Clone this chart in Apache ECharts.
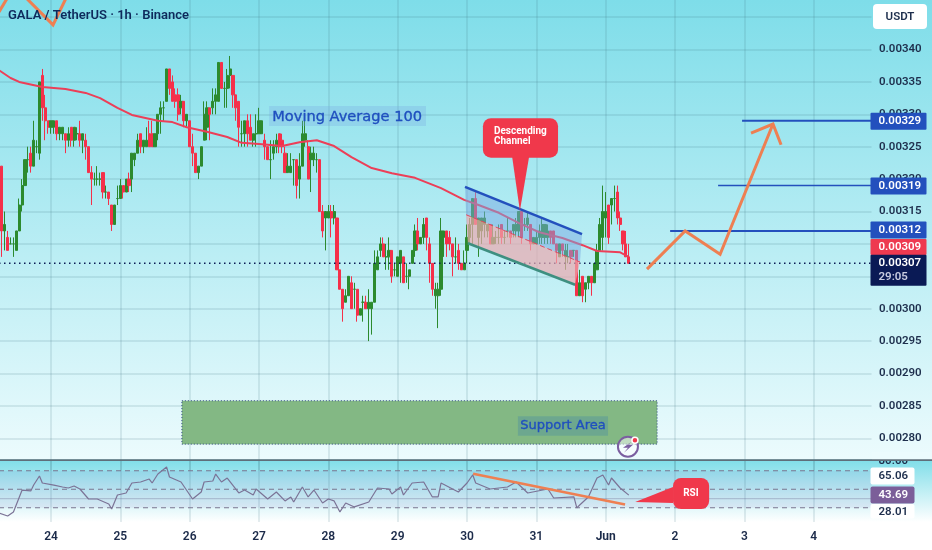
<!DOCTYPE html>
<html><head><meta charset="utf-8">
<style>html,body{margin:0;padding:0;background:#fff}#c{width:932px;height:550px}</style>
<script src="https://cdn.jsdelivr.net/npm/echarts@6/dist/echarts.min.js"></script>
</head><body><div id="c"></div>
<script>
// prices are in units of 0.00001 USDT; rows are [open, close, low, high], one per hour, first row at index 1
const candles = [
[322,312,308,322],[312,313,309,315],[311,309,309,312],[310,310,310,311],[310,310,308,311],[309,312,309,312],[312,316,312,317],[316,319,315,320],[319,323,319,323],[323,323,321,325],
[324,322,321,325],[322,326,322,329],[325,325,324,326],[324,335,323,335],[336,331,329,337],[331,329,326,333],[329,328,327,329],[328,329,327,329],[328,329,327,329],[329,327,326,329],
[327,328,326,328],[327,328,326,328],[327,326,324,327],[326,327,325,328],[328,326,325,328],[326,328,325,328],[327,327,326,328],[327,326,325,329],[326,327,324,327],[326,325,323,327],
[325,321,321,325],[321,320,316,322],[320,320,319,321],[320,320,319,322],[320,320,319,321],[321,318,317,321],[318,318,317,319],[318,317,316,318],[316,313,312,316],[313,316,313,316],
[317,317,316,319],[317,319,317,320],[319,318,317,319],[318,320,318,320],[320,319,318,321],[320,324,318,324],[323,324,322,324],[324,326,324,327],[327,325,324,327],[325,326,324,326],
[325,326,325,328],[327,325,325,329],[327,325,325,329],[325,327,325,327],[327,330,326,330],[330,331,327,332],[331,331,329,332],[332,337,332,337],[337,334,333,337],[335,332,332,336],
[333,332,331,334],[333,330,329,334],[331,332,330,333],[332,329,328,332],[329,330,328,330],[329,325,325,329],[325,324,322,327],[324,321,321,324],[321,322,320,322],[322,325,322,325],
[326,330,326,332],[328,331,326,332],[331,330,326,331],[331,332,330,334],[332,333,330,334],[332,338,332,338],[338,334,334,338],[334,334,331,335],[334,336,331,337],[336,337,334,339],
[336,333,331,336],[333,331,329,333],[332,328,325,332],[327,327,325,329],[327,329,325,329],[329,327,325,330],[328,326,326,330],[326,327,325,327],[327,327,325,330],[327,329,327,331],
[327,329,327,329],[326,325,323,327],[325,323,323,325],[323,323,320,326],[324,325,323,326],[325,326,324,327],[327,325,324,327],[326,325,324,327],[324,321,321,325],[321,322,321,324],
[321,322,321,324],[323,323,319,323],[323,319,317,323],[320,322,317,324],[322,327,322,329],[326,327,325,330],[325,320,320,326],[323,324,318,325],[323,324,322,325],[323,323,321,324],
[323,315,315,323],[315,312,311,316],[314,315,309,315],[314,315,314,316],[315,314,311,316],[314,315,313,316],[314,306,306,314],[306,303,303,306],[303,300,298,303],[301,302,301,303],
[302,305,302,305],[304,300,300,305],[303,303,300,304],[303,299,298,303],[299,300,299,300],[301,301,298,302],[301,300,300,302],[300,301,295,303],[300,301,296,301],[301,307,301,309],
[306,308,306,309],[309,310,308,311],[310,308,308,311],[308,308,306,310],[308,309,306,311],[309,305,304,309],[306,306,305,307],[305,308,305,308],[307,309,304,309],[308,304,304,308],
[305,305,304,307],[305,306,303,306],[307,309,307,309],[309,312,308,313],[312,310,309,314],[310,311,310,311],[311,313,310,314],[314,311,309,314],[310,307,304,311],[307,303,302,307],
[302,303,300,304],[302,303,297,304],[303,312,302,314],[311,312,308,312],[312,310,308,312],[311,310,309,312],[310,308,305,310],[308,308,307,311],[309,307,306,310],[307,306,306,307],
[306,307,306,309],[309,311,307,313],[311,313,310,314],[313,317,310,317],[317,313,313,318],[311,314,308,314],[312,314,310,314],[313,314,311,315],[312,313,311,313],[313,310,310,313],
[310,311,310,313],[311,311,310,312],[311,311,310,313],[313,311,310,313],[311,311,310,312],[312,312,311,314],[312,311,310,312],[312,313,311,313],[312,313,311,314],[312,315,311,315],
[315,311,310,315],[313,313,312,314],[313,314,312,315],[313,310,309,313],[310,311,310,311],[310,311,310,312],[311,312,310,313],[311,313,310,314],[311,313,310,313],[311,312,310,313],
[312,311,310,312],[312,310,310,312],[310,309,307,310],[308,310,308,310],[310,309,308,310],[308,309,306,310],[308,308,307,310],[309,308,307,309],[309,309,308,309],[309,302,302,309],
[302,304,302,306],[305,302,301,305],[303,304,301,304],[304,305,303,305],[305,304,302,305],[304,307,304,307],[306,309,306,310],[309,313,309,314],[311,315,309,319],[314,315,311,318],
[316,311,310,316],[316,317,313,317],[317,317,315,319],[318,314,313,319],[314,313,312,315],[312,310,309,312],[310,308,308,312],[308,307,307,310]
];
const maHours = [0,4,7,13,15,23,30,35,41,46,55,60,65,72,79,84,90,98,104,110,116,122,129,136,144,153,161,166,173,180,187,195,202,207,215,218];
const maValues = [336.8,335.6,335,334.4,334.2,333.9,333.3,332.5,331,329.9,329,328.8,328,327.3,326.5,325.6,325.4,325.1,325.7,326,325.1,323.4,321.7,320.9,320.2,318.6,316.8,316,314.8,313.2,311.8,310.9,309.8,308.9,308.7,308];
const rsiHours = [0,3,5,8,11,12,14,15,19,22,24,26,28,31,34,38,39,41,44,46,49,52,53,55,58,59,63,67,70,71,74,75,77,79,83,85,88,89,93,96,99,101,102,105,107,109,112,114,116,118,120,123,128,131,135,136,139,140,143,147,150,152,153,159,162,164,165,170,176,179,183,190,192,199,200,201,204,207,209,211,212,215,218];
const rsiValues = [24.4,21.1,25.5,49.2,48.2,54.6,64.4,56.8,54.6,52.5,51.4,53.6,50.3,39.5,39.5,34.1,28.7,43.8,46,56.8,57.9,61.1,56.8,66.5,74.1,63.3,57.9,39.5,47.1,57.9,59,66.5,57.9,62.2,46,49.2,43.8,50.3,39.5,47.1,37.4,41.7,36.3,52.5,41.7,49.2,35.2,39.5,37.4,25.5,35.2,30.9,36.3,51.4,50.3,44.9,52.5,43.8,56.8,57.9,41.7,41.7,56.8,47.1,56.8,65.5,56.8,50.3,52.5,57.9,46,50.3,40.6,41.7,29.8,33,41.7,62.2,65.5,54.6,62.2,51.4,43.69];
const dayLabels = ['24','25','26','27','28','29','30','31','Jun','2','3','4'];
const targetPrices = [329,319,312];
const currentPrice = 307;
const maPrice = 309;
const rsiLevels = [70,50,30];
const rsiTagValues = [80,65.06,43.69,28.01];

const LAST = 302, FIRST_DAY = 18, HOURS = 24;
const isDay = i => i >= FIRST_DAY && (i - FIRST_DAY) % HOURS === 0;
const categories = [];
for (let i = 0; i <= LAST; i++) {
  const d = isDay(i) ? dayLabels[(i - FIRST_DAY) / HOURS] : '';
  categories.push(d === 'Jun' ? {value: d, textStyle: {fontWeight: 700}} : d === undefined ? '' : d);
}
const GREEN = '#2c8a2e', RED = '#f5304a', BLUE = '#2350bd', ORANGE = '#ee7f52', NAVY = '#0a1a55', PINK = '#f0384b';
const FONT = 'Roboto, sans-serif';
const fmt = v => (v / 1e5).toFixed(5);

const mainShapes = [
  {k:'box', a:[63.3,285.8], b:[227.8,279.1], fill:'#83b884', stroke:'rgba(20,40,120,.8)', lw:1, dash:[1,2], r:0},
  {k:'line', pts:[[0,currentPrice],[LAST,currentPrice]], stroke:NAVY, lw:1.5, dash:[1.5,3.5]},
  {k:'line', pts:[[0,345.8],[3.1,348.1]], stroke:ORANGE, lw:3},
  {k:'line', pts:[[7.27,348.9],[18.7,343.8],[24.6,349.2]], stroke:ORANGE, lw:3},
  {k:'poly', pts:[[161.3,318.8],[201.8,311.5],[201.1,307.2],[161.7,314.5]], fill:'rgba(120,170,225,.5)'},
  {k:'poly', pts:[[161.7,314.5],[201.1,307.2],[199.4,303.7],[162.3,310.1]], fill:'rgba(235,170,175,.7)'},
  {k:'line', pts:[[161.3,318.8],[201.8,311.5]], stroke:BLUE, lw:2.5},
  {k:'line', pts:[[162.3,310.1],[199.4,303.7]], stroke:'#3e8f80', lw:2.5},
  {k:'line', pts:[[161.7,314.5],[201.1,307.2]], stroke:'#e0495f', lw:1, dash:[5,3]},
  {k:'line', pts:[[257.2,targetPrices[0]],[LAST,targetPrices[0]]], stroke:BLUE, lw:2},
  {k:'line', pts:[[248.9,targetPrices[1]],[LAST,targetPrices[1]]], stroke:BLUE, lw:1.5},
  {k:'line', pts:[[232.3,targetPrices[2]],[LAST,targetPrices[2]]], stroke:BLUE, lw:2},
  {k:'line', pts:[[224.3,306.1],[237.5,312],[249.6,308.4],[267.9,328.5]], stroke:ORANGE, lw:3},
  {k:'line', pts:[[260.3,327.1],[267.9,328.5],[270.7,325.3]], stroke:ORANGE, lw:3},
  {k:'box', a:[93.5,331.3], b:[147.8,328.2], fill:'rgba(120,165,225,.28)', r:0},
  {k:'text', at:[120.5,329.6], text:'Moving Average 100', font:'14.6px "DejaVu Sans", sans-serif', fill:'#1f4fbf', stroke:'#1f4fbf', align:'center'},
  {k:'box', a:[179.6,283.4], b:[210.8,280.4], fill:'rgba(60,130,170,.3)', r:0},
  {k:'text', at:[195.2,281.9], text:'Support Area', font:'13px "DejaVu Sans", sans-serif', fill:'#1f4fbf', stroke:'#1f4fbf', align:'center'},
  {k:'poly', pts:[[177.6,323.5],[183.5,323.5],[180.3,315.1]], fill:PINK},
  {k:'box', a:[167.5,329.4], b:[193.5,323.3], fill:PINK, r:8},
  {k:'text', at:[171.3,327.3], text:'Descending', font:'700 10px '+FONT, fill:'#fff', align:'left'},
  {k:'text', at:[171.3,325.75], text:'Channel', font:'700 10px '+FONT, fill:'#fff', align:'left'},
  {k:'icon', at:[217.7,278.7]}
];
const rsiShapes = [
  {k:'box', a:[0,70], b:[LAST,30], fill:'rgba(126,87,194,.09)', r:0},
  {k:'line', pts:[[0,40],[LAST,40]], stroke:'rgba(100,100,140,.3)', lw:1.2},
  {k:'line', pts:[[0,rsiLevels[0]],[LAST,rsiLevels[0]]], stroke:'#7a7590', lw:1.1, dash:[5,4]},
  {k:'line', pts:[[0,rsiLevels[1]],[LAST,rsiLevels[1]]], stroke:'#7a7590', lw:1.1, dash:[5,4]},
  {k:'line', pts:[[0,rsiLevels[2]],[LAST,rsiLevels[2]]], stroke:'#7a7590', lw:1.1, dash:[5,4]}
];
const rsiTopShapes = [
  {k:'line', pts:[[164.1,66.8],[216.7,33.5]], stroke:ORANGE, lw:2.5},
  {k:'poly', pts:[[233.3,52.5],[220.2,36.3],[233.3,35.2]], fill:PINK},
  {k:'box', a:[233.3,62.2], b:[245.8,28.7], fill:PINK, r:8},
  {k:'text', at:[239.5,45], text:'RSI', font:'700 10px '+FONT, fill:'#fff', align:'center'}
];
function draw(s, api) {
  if (s.k === 'line' || s.k === 'poly') {
    return {type: s.k === 'line' ? 'polyline' : 'polygon', shape:{points:s.pts.map(p => api.coord(p))},
      style:{fill:s.fill||'none', stroke:s.stroke||'none', lineWidth:s.lw||0, lineDash:s.dash||null, lineJoin:'miter'}};
  }
  if (s.k === 'box') {
    const a = api.coord(s.a), b = api.coord(s.b);
    return {type:'rect', shape:{x:a[0], y:a[1], width:b[0]-a[0], height:b[1]-a[1], r:s.r},
      style:{fill:s.fill, stroke:s.stroke||'none', lineWidth:s.lw||0, lineDash:s.dash||null}};
  }
  if (s.k === 'text') {
    const a = api.coord(s.at);
    return {type:'text', style:{text:s.text, x:a[0], y:a[1], font:s.font, fill:s.fill, stroke:s.stroke||null, lineWidth:s.stroke?0.35:0, align:s.align, verticalAlign:'middle'}};
  }
  const c = api.coord(s.at), P = '#7b5ea0';
  return {type:'group', children:[
    {type:'circle', shape:{cx:c[0], cy:c[1], r:10}, style:{fill:'rgba(255,255,255,.5)', stroke:P, lineWidth:2}},
    {type:'polygon', shape:{points:[[5,-6],[-5,1],[0,1],[-4,6],[5,-2],[0,-2]].map(q => [c[0]+q[0], c[1]+q[1]])}, style:{fill:P}},
    {type:'circle', shape:{cx:c[0]+7, cy:c[1]-6.5, r:3}, style:{fill:'#f0384b', stroke:'#fff', lineWidth:1.5}}
  ]};
}
function annotSeries(shapes, x, y, z, yv) {
  return {type:'custom', xAxisIndex:x, yAxisIndex:y, z, silent:true, encode:{x:0,y:1},
    data:shapes.map((s,i) => [i, yv]), renderItem:(p, api) => draw(shapes[p.dataIndex], api)};
}
const tagFont = '600 11.5px ' + FONT;
function priceTag(box, api) {
  const c = api.coord([LAST, box.v]), x0 = c[0]-1, w = box.w || 56, kids = [];
  if (box.fill) kids.push({type:'rect', shape:{x:x0, y:c[1]+box.top, width:w, height:box.h, r:box.r||1}, style:{fill:box.fill}});
  kids.push({type:'text', style:{text:box.text, x:x0+8, y:c[1]+box.top+box.ty, font:tagFont, fill:box.color, verticalAlign:'middle'}});
  if (box.sub) kids.push({type:'text', style:{text:box.sub, x:x0+8, y:c[1]+box.top+box.ty+14, font:tagFont, fill:'#c8cce0', verticalAlign:'middle'}});
  return {type:'group', children:kids};
}
const priceTags = [
  {v:targetPrices[0], text:fmt(targetPrices[0]), fill:BLUE, color:'#fff', top:-8, h:17, ty:8.5},
  {v:targetPrices[1], text:fmt(targetPrices[1]), fill:BLUE, color:'#fff', top:-8, h:17, ty:8.5},
  {v:targetPrices[2], text:fmt(targetPrices[2]), fill:BLUE, color:'#fff', top:-9.5, h:17, ty:8.5},
  {v:maPrice, text:fmt(maPrice), fill:'#ee3a50', color:'#fff', top:-11.5, h:16, ty:8},
  {v:currentPrice, text:fmt(currentPrice), sub:'29:05', fill:NAVY, color:'#fff', top:-8.5, h:31, ty:8.5}
];
const rsiTags = [
  {v:rsiTagValues[0], text:rsiTagValues[0].toFixed(2), color:'#1e2f4d', top:-7, h:14, ty:7},
  {v:rsiTagValues[1], text:rsiTagValues[1].toFixed(2), fill:'#fff', color:'#1e2f4d', top:-8, h:17, ty:9, w:44, r:2},
  {v:rsiTagValues[2], text:rsiTagValues[2].toFixed(2), fill:'#7b5e99', color:'#fff', top:-8.5, h:17, ty:8.5, w:44, r:2},
  {v:rsiTagValues[3], text:rsiTagValues[3].toFixed(2), fill:'#fff', color:'#1e2f4d', top:-5.5, h:14.5, ty:8, w:44, r:2}
];
function tagSeries(tags, x, y, yv) {
  return {type:'custom', xAxisIndex:x, yAxisIndex:y, z:20, silent:true, encode:{x:0,y:1},
    data:tags.map((s,i) => [i, yv]), renderItem:(p, api) => priceTag(tags[p.dataIndex], api)};
}
const gridLine = {show:true, interval:isDay, lineStyle:{color:'rgba(60,110,130,.18)', width:1.5}};
const chart = echarts.init(document.getElementById('c'), null, {renderer:'canvas'});
chart.setOption({
  animation:false,
  backgroundColor:new echarts.graphic.LinearGradient(0,0,0,1,[
    {offset:0,color:'#7edde9'},{offset:459/550,color:'#ecfbfd'},{offset:460/550,color:'#80dee9'},{offset:522/550,color:'#ffffff'},{offset:1,color:'#ffffff'}]),
  textStyle:{fontFamily:FONT},
  grid:[
    {left:-1, top:-15.3, width:872.5, height:486, outerBoundsMode:'none'},
    {left:-1, top:460, width:872.5, height:62, outerBoundsMode:'none'}
  ],
  xAxis:[
    {type:'category', gridIndex:0, data:categories, boundaryGap:false, axisLine:{show:false}, axisTick:{show:false}, axisLabel:{show:false}, splitLine:gridLine},
    {type:'category', gridIndex:1, data:categories, boundaryGap:false, axisLine:{show:false}, axisTick:{show:false}, splitLine:gridLine,
      axisLabel:{interval:isDay, margin:9, color:'#1c2b4a', fontSize:12, fontWeight:600, fontFamily:FONT}},
    {type:'value', gridIndex:0, min:0, max:LAST, show:false},
    {type:'value', gridIndex:1, min:0, max:LAST, show:false}
  ],
  yAxis:[
    {type:'value', gridIndex:0, position:'right', min:275, max:350, interval:5,
      axisLine:{show:true, lineStyle:{color:'rgba(255,255,255,.65)', width:2}}, axisTick:{show:false},
      axisLabel:{margin:7.5, color:'#1e2f4d', fontSize:11.5, fontWeight:600, fontFamily:FONT, showMinLabel:false, showMaxLabel:false,
        formatter:v => v === 345 ? '' : fmt(v)},
      splitLine:{show:true, showMinLine:false, showMaxLine:false, lineStyle:{color:'rgba(60,110,130,.18)', width:1.5}}},
    {type:'value', gridIndex:1, position:'right', min:14.6, max:81.7,
      axisLine:{show:true, lineStyle:{color:'rgba(255,255,255,.65)', width:2}}, axisTick:{show:false}, axisLabel:{show:false}, splitLine:{show:false}}
  ],
  series:[
    {type:'candlestick', xAxisIndex:0, yAxisIndex:0, z:2, barWidth:2.6, encode:{x:0,y:[1,2,3,4]}, clip:false,
      data:candles.map((r,i) => [i+1].concat(r)),
      itemStyle:{color:GREEN, color0:RED, borderColor:GREEN, borderColor0:RED, borderColorDoji:GREEN, borderWidth:1}},
    {type:'line', xAxisIndex:2, yAxisIndex:0, z:3, symbol:'none', data:maHours.map((h,i) => [h, maValues[i]]),
      lineStyle:{color:'#ec3f58', width:2}},
    annotSeries(mainShapes, 2, 0, 5, 300),
    tagSeries(priceTags, 2, 0, 300),
    annotSeries(rsiShapes, 3, 1, 1, 50),
    {type:'line', xAxisIndex:3, yAxisIndex:1, z:3, symbol:'none', data:rsiHours.map((h,i) => [h, rsiValues[i]]),
      lineStyle:{color:'#7b7396', width:1.2}},
    annotSeries(rsiTopShapes, 3, 1, 5, 50),
    tagSeries(rsiTags, 3, 1, 50)
  ],
  graphic:{elements:[
    {type:'rect', z:100, silent:true, shape:{x:872,y:452,width:60,height:8}, style:{fill:'#ecfbfd'}},
    {type:'rect', z:101, silent:true, shape:{x:0,y:459.2,width:932,height:1.8}, style:{fill:'#5f6f7a'}},
    {type:'rect', z:100, silent:true, shape:{x:873,y:4,width:54,height:25,r:4}, style:{fill:'#fff'}},
    {type:'text', z:101, silent:true, style:{text:'USDT', x:900, y:17, font:'600 11.5px '+FONT, fill:'#1e2f4d', align:'center', verticalAlign:'middle'}},
    {type:'text', z:101, silent:true, style:{text:'GALA / TetherUS · 1h · Binance', x:8, y:16, font:'600 13px '+FONT, fill:'#0e2a5c', verticalAlign:'middle'}}
  ]}
});
</script></body></html>
